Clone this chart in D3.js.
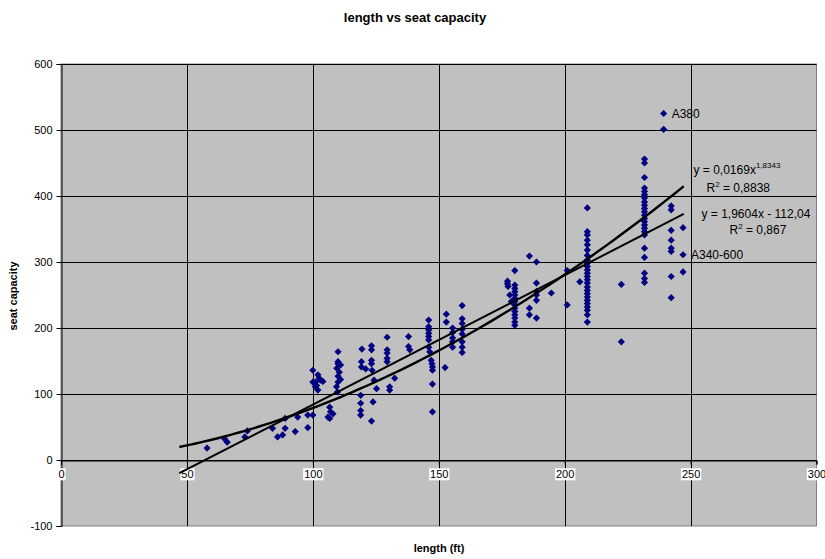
<!DOCTYPE html>
<html>
<head>
<meta charset="utf-8">
<script src="https://cdn.jsdelivr.net/npm/d3@7"></script>
<style>
  html, body { margin: 0; padding: 0; background: #fff; }
  svg { display: block; }
  text { font-family: "Liberation Sans", Arial, sans-serif; }
</style>
</head>
<body>
<svg id="chart" width="825" height="559"></svg>
<script>
// ---- data ----
const lengthFt = [
  58, 65, 66, 73, 74, 84, 86, 88, 89, 89, 93, 94, 98, 98, 100,
  100, 102, 102.5, 100, 103, 101, 104, 101.5, 102, 101,
  106.7, 107, 106, 106.7, 108,
  110, 110, 109.5, 111, 110, 110.5, 110, 111, 110, 109.4, 109.8,
  119.5, 119.3, 119.3, 121, 119, 119, 119, 119,
  123.3, 123.3, 123.3, 123.3, 123.5, 124.3, 125.3, 123.9, 123.3,
  129.5, 129.5, 129.5, 129.5, 129.5, 130.5, 130.5, 132.5,
  138, 138, 138.5,
  146, 146, 146, 146, 146, 146, 146, 146.4, 147, 147.3, 147.5, 147.5, 147.5, 147.5,
  152.5, 153, 153, 155.5, 155.5, 155.5, 155.5, 155.5,
  159.3, 159.3, 159.3, 159.3, 159.3, 159.3, 159.3, 159.3,
  177.3, 177.3, 177.5, 178.2, 178.8, 180.2, 180.2, 180.2, 180.2, 180.2, 180.2, 180.2, 180.2, 180.2, 180.2, 180.2, 180.2, 180.2, 180.2,
  186, 186, 186, 188.8, 188.8, 188.8, 188.8, 188.8, 188.8,
  194.7, 201, 201, 206,
  209, 209, 209, 209, 209, 209, 209, 209, 209, 209, 209, 209, 209, 209, 209, 209, 209, 209, 209, 209, 209, 209, 209, 209, 209,
  222.5, 222.5,
  231.7, 231.7, 231.7, 231.7, 231.7, 231.7, 231.7, 231.7, 231.7, 231.7, 231.7, 231.7, 231.7, 231.7, 231.7, 231.7, 231.7, 231.7, 231.7, 231.7, 231.7, 231.7, 231.7,
  239.3, 239.3,
  242.3, 242.3, 242.3, 242.3, 242.3, 242.3, 242.3, 242.3,
  247, 247, 247
];
const seats = [
  18, 32, 27, 35, 44, 48, 35, 38, 48, 63, 43, 65, 49, 68, 68,
  136, 129, 124, 118, 121, 118, 119, 113, 106, 111,
  80, 73, 65, 63, 70,
  164, 149, 139, 144, 146, 133, 127, 122, 118, 111, 103,
  168, 149, 141, 138, 98, 86, 75, 68,
  173, 167, 151, 146, 136, 121, 108, 88, 59,
  186, 167, 162, 154, 149, 111, 106, 124,
  187, 172, 167,
  212, 202, 197, 192, 187, 182, 171, 164, 151, 146, 141, 136, 115, 73,
  140, 221, 209, 200, 193, 185, 179, 171,
  234, 214, 207, 198, 191, 179, 171, 163,
  271, 267, 263, 250, 240, 287, 265, 260, 255, 250, 245, 240, 235, 230, 225, 220, 215, 209, 204,
  309, 230, 220, 300, 268, 255, 250, 242, 215,
  253, 287, 235, 270,
  382, 346, 341, 333, 326, 318, 310, 303, 298, 293, 288, 283, 278, 273, 268, 262, 257, 252, 247, 242, 237, 232, 227, 220, 209,
  266, 179,
  456, 450, 428, 412, 407, 402, 397, 391, 386, 381, 376, 371, 366, 361, 356, 351, 346, 341, 321, 307, 283, 275, 269,
  525, 501,
  385, 379, 348, 333, 321, 316, 278, 246,
  352, 311, 285
];
const labelNames = ["A380", "A340-600"];
const labelLengths = [239.3, 247];
const labelSeats = [525, 311];

const xTicks = [0, 50, 100, 150, 200, 250, 300];
const yTicks = [-100, 0, 100, 200, 300, 400, 500, 600];

// trendlines (Excel fits shown on chart)
const linCoef = [1.9604, -112.04];   // y = a x + b
const powCoef = [0.0169, 1.8343];    // y = c x^p
const trendRange = [47, 247.3];

const titleText = "length vs seat capacity";
const xTitle = "length (ft)";
const yTitle = "seat capacity";

// ---- drawing ----
const svg = d3.select("#chart");
const L = 61, R = 816.5, T = 64, B = 526;
const x = d3.scaleLinear().domain([0, 300]).range([L, R]);
const y = d3.scaleLinear().domain([-100, 600]).range([B, T]);

// plot background
svg.append("rect").attr("x", L).attr("y", T).attr("width", R - L).attr("height", B - T)
  .attr("fill", "#c0c0c0").attr("stroke", "#808080").attr("stroke-width", 1);

// gridlines
svg.append("g").selectAll("line").data(yTicks.filter(d => d !== -100)).join("line")
  .attr("x1", L).attr("x2", R)
  .attr("y1", d => Math.round(y(d)) + 0.5).attr("y2", d => Math.round(y(d)) + 0.5)
  .attr("stroke", "#000").attr("stroke-width", 1);
svg.append("g").selectAll("line").data(xTicks.filter(d => d !== 0 && d !== 300)).join("line")
  .attr("x1", d => Math.round(x(d)) + 0.5).attr("x2", d => Math.round(x(d)) + 0.5)
  .attr("y1", T).attr("y2", B)
  .attr("stroke", "#000").attr("stroke-width", 1);

const fmt = d => String(d);

// y axis
const yAxis = d3.axisLeft(y).tickValues(yTicks).tickFormat(fmt).tickSize(5).tickPadding(4);
const gy = svg.append("g").attr("transform", `translate(${Math.round(L) + 0.5},0)`).call(yAxis);
gy.select(".domain").attr("stroke", "#000");
gy.selectAll(".tick line").attr("stroke", "#000");
gy.selectAll(".tick text").attr("font-size", 11).attr("fill", "#000")
  .style("font-family", '"Liberation Sans", Arial, sans-serif');

// x axis at y = 0
const xAxis = d3.axisBottom(x).tickValues(xTicks).tickFormat(fmt).tickSize(4).tickPadding(6);
const gx = svg.append("g").attr("transform", `translate(0,${Math.round(y(0)) + 0.5})`).call(xAxis);
gx.select(".domain").attr("stroke", "#000");
gx.selectAll(".tick line").attr("stroke", "#000");
gx.selectAll(".tick text").attr("font-size", 11).attr("fill", "#000")
  .style("font-family", '"Liberation Sans", Arial, sans-serif');
gx.selectAll(".tick").each(function () {
  const g = d3.select(this);
  const t = g.select("text");
  const bb = t.node().getBBox();
  g.insert("rect", "text").attr("x", bb.x - 1).attr("y", bb.y).attr("width", bb.width + 2)
    .attr("height", bb.height).attr("fill", "#fff");
});

// trendlines
const linPts = trendRange.map(v => [v, linCoef[0] * v + linCoef[1]]);
const powPts = d3.range(trendRange[0], trendRange[1] + 0.001, 2).map(v => [v, powCoef[0] * Math.pow(v, powCoef[1])]);
powPts.push([trendRange[1], powCoef[0] * Math.pow(trendRange[1], powCoef[1])]);
const line = d3.line().x(d => x(d[0])).y(d => y(d[1]));

// points
const diamond = "M0,-3.6L3.6,0L0,3.6L-3.6,0Z";
svg.append("g").selectAll("path").data(lengthFt.map((v, i) => [v, seats[i]])).join("path")
  .attr("d", diamond)
  .attr("transform", d => `translate(${x(d[0])},${y(d[1])})`)
  .attr("fill", "#000080");

svg.append("path").attr("d", line(powPts)).attr("fill", "none").attr("stroke", "#000").attr("stroke-width", 2.4);
svg.append("path").attr("d", line(linPts)).attr("fill", "none").attr("stroke", "#000").attr("stroke-width", 2);

// point labels
svg.append("g").selectAll("text").data(labelNames).join("text")
  .attr("x", (d, i) => x(labelLengths[i]) + 8)
  .attr("y", (d, i) => y(labelSeats[i]) + 4)
  .attr("font-size", 12).attr("fill", "#000").text(d => d);

// equation labels
const eq1 = svg.append("text").attr("x", 693.5).attr("y", 173.5).attr("font-size", 12).attr("fill", "#000");
eq1.append("tspan").text("y = 0,0169x");
eq1.append("tspan").attr("font-size", 8).attr("dy", -6).text("1,8343");
const r1 = svg.append("text").attr("x", 706.5).attr("y", 191.5).attr("font-size", 12).attr("fill", "#000");
r1.append("tspan").text("R");
r1.append("tspan").attr("font-size", 8).attr("dy", -5).text("2");
r1.append("tspan").attr("dy", 5).text(" = 0,8838");
svg.append("text").attr("x", 701.5).attr("y", 218).attr("font-size", 12).attr("fill", "#000").text("y = 1,9604x - 112,04");
const r2 = svg.append("text").attr("x", 729.5).attr("y", 234).attr("font-size", 12).attr("fill", "#000");
r2.append("tspan").text("R");
r2.append("tspan").attr("font-size", 8).attr("dy", -5).text("2");
r2.append("tspan").attr("dy", 5).text(" = 0,867");

// titles
svg.append("text").attr("x", 415).attr("y", 22).attr("text-anchor", "middle")
  .attr("font-size", 13).attr("font-weight", "bold").text(titleText);
svg.append("text").attr("x", 439).attr("y", 552).attr("text-anchor", "middle")
  .attr("font-size", 11).attr("font-weight", "bold").text(xTitle);
svg.append("text").attr("transform", "translate(17,296) rotate(-90)").attr("text-anchor", "middle")
  .attr("font-size", 11).attr("font-weight", "bold").text(yTitle);
</script>
</body>
</html>
